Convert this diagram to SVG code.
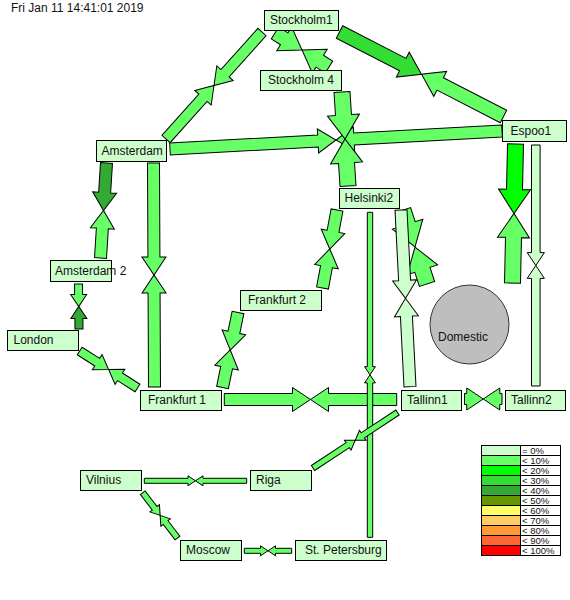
<svg xmlns="http://www.w3.org/2000/svg" xmlns:xlink="http://www.w3.org/1999/xlink" width="570" height="600" viewBox="0 0 570 600">
<style>
  #links { stroke:#000; stroke-width:1; stroke-linejoin:miter; }
  .c0 { fill:#ccffcc; } .c1 { fill:#66ff66; } .c2 { fill:#00ff00; } .c3 { fill:#33dd33; } .c4 { fill:#33aa33; }
  .node rect { fill:#ccffcc; stroke:#000; stroke-width:1; }
  text { font-family:"Liberation Sans", Arial, sans-serif; font-size:12px; fill:#111; }
  #legend rect { stroke:#000; stroke-width:1; }
  #legend text { font-size:9.5px; }
</style>
<defs>
  <polygon id="p1" points="0,-5.5 55.4,-5.5 55.4,-11 71.9,0 55.4,11 55.4,5.5 0,5.5"/>
  <polygon id="p2" points="0,-6 148.2,-6 148.2,-12 166.2,0 148.2,12 148.2,6 0,6"/>
  <polygon id="p3" points="0,-8 23.1,-8 23.1,-16 47.1,0 23.1,16 23.1,8 0,8"/>
  <polygon id="p4" points="0,-7 71.2,-7 71.2,-14 92.2,0 71.2,14 71.2,7 0,7"/>
  <polygon id="p5" points="0,-7 10.9,-7 10.9,-14 31.9,0 10.9,14 10.9,7 0,7"/>
  <polygon id="p6" points="0,-6 29.6,-6 29.6,-12 47.6,0 29.6,12 29.6,6 0,6"/>
  <polygon id="p7" points="0,-6 94,-6 94,-12 112,0 94,12 94,6 0,6"/>
  <polygon id="p8" points="0,-4 10.5,-4 10.5,-8 22.5,0 10.5,8 10.5,4 0,4"/>
  <polygon id="p9" points="0,-4.5 20.8,-4.5 20.8,-9 34.3,0 20.8,9 20.8,4.5 0,4.5"/>
  <polygon id="p10" points="0,-6 21.7,-6 21.7,-12 39.7,0 21.7,12 21.7,6 0,6"/>
  <polygon id="p11" points="0,-6 20.3,-6 20.3,-12 38.3,0 20.3,12 20.3,6 0,6"/>
  <polygon id="p12" points="0,-6 68.2,-6 68.2,-12 86.2,0 68.2,12 68.2,6 0,6"/>
  <polygon id="p13" points="0,-5.5 2.25,-5.5 2.25,-11 18.75,0 2.25,11 2.25,5.5 0,5.5"/>
  <polygon id="p14" points="0,-6 70.5,-6 70.5,-12 88.5,0 70.5,12 70.5,6 0,6"/>
  <polygon id="p15" points="0,-8 14.9,-8 14.9,-16 38.9,0 14.9,16 14.9,8 0,8"/>
  <polygon id="p16" points="0,-4.3 107.6,-4.3 107.6,-8.6 120.5,0 107.6,8.6 107.6,4.3 0,4.3"/>
  <polygon id="p17" points="0,-8 45.5,-8 45.5,-16 69.5,0 45.5,16 45.5,8 0,8"/>
  <polygon id="p18" points="0,-3 41.55,-3 41.55,-6 50.55,0 41.55,6 41.55,3 0,3"/>
  <polygon id="p19" points="0,-2.7 154.4,-2.7 154.4,-5.4 162.5,0 154.4,5.4 154.4,2.7 0,2.7"/>
  <polygon id="p20" points="0,-2.5 43.7,-2.5 43.7,-5 51.2,0 43.7,5 43.7,2.5 0,2.5"/>
  <polygon id="p21" points="0,-3 19.5,-3 19.5,-6 28.5,0 19.5,6 19.5,3 0,3"/>
  <polygon id="p22" points="0,-2.5 16.2,-2.5 16.2,-5 23.7,0 16.2,5 16.2,2.5 0,2.5"/>
</defs>

<text x="11" y="12">Fri Jan 11 14:41:01 2019</text>

<g id="links">
  <use href="#p1" class="c1" transform="translate(166,139) rotate(-48.11)"/>
  <use href="#p1" class="c1" transform="translate(262,32) rotate(131.89)"/>
  <use href="#p2" class="c1" transform="translate(170,149) rotate(-3.10)"/>
  <use href="#p2" class="c1" transform="translate(502,131) rotate(176.90)"/>
  <use href="#p4" class="c3" transform="translate(339.5,32) rotate(27.26)"/>
  <use href="#p4" class="c1" transform="translate(503.5,116.5) rotate(207.26)"/>
  <use href="#p5" class="c1" transform="translate(275,33) rotate(32.2)"/>
  <use href="#p5" class="c1" transform="translate(329,67) rotate(212.2)"/>
  <use href="#p3" class="c1" transform="translate(342,92) rotate(86.35)"/>
  <use href="#p3" class="c1" transform="translate(348,186) rotate(266.35)"/>
  <use href="#p6" class="c4" transform="translate(106.5,163) rotate(93.61)"/>
  <use href="#p6" class="c1" transform="translate(100.5,258) rotate(273.61)"/>
  <use href="#p7" class="c1" transform="translate(153.5,163) rotate(89.74)"/>
  <use href="#p7" class="c1" transform="translate(154.5,387) rotate(269.74)"/>
  <use href="#p8" class="c1" transform="translate(78.5,284) rotate(89.36)"/>
  <use href="#p8" class="c4" transform="translate(79,329) rotate(269.36)"/>
  <use href="#p9" class="c1" transform="translate(79.7,351) rotate(32.62)"/>
  <use href="#p9" class="c1" transform="translate(137.5,388) rotate(212.62)"/>
  <use href="#p10" class="c1" transform="translate(337,210) rotate(100.53)"/>
  <use href="#p10" class="c1" transform="translate(322.5,288) rotate(280.53)"/>
  <use href="#p11" class="c1" transform="translate(238,312.5) rotate(101.68)"/>
  <use href="#p11" class="c1" transform="translate(222.5,387.5) rotate(281.68)"/>
  <use href="#p17" class="c2" transform="translate(515.5,144) rotate(91.24)"/>
  <use href="#p17" class="c1" transform="translate(512.5,283) rotate(271.24)"/>
  <use href="#p16" class="c0" transform="translate(535.8,145) rotate(90)"/>
  <use href="#p16" class="c0" transform="translate(535.8,386) rotate(270)"/>
  <use href="#p15" class="c1" transform="translate(403,210) rotate(72.03)"/>
  <use href="#p15" class="c1" transform="translate(427,284) rotate(252.03)"/>
  <use href="#p14" class="c0" transform="translate(401,210) rotate(87.08)"/>
  <use href="#p14" class="c0" transform="translate(410,386.7) rotate(267.08)"/>
  <use href="#p12" class="c1" transform="translate(224.3,399.5)"/>
  <use href="#p12" class="c1" transform="translate(396.7,399.5) rotate(180)"/>
  <use href="#p13" class="c1" transform="translate(464.5,399)"/>
  <use href="#p13" class="c1" transform="translate(502,399) rotate(180)"/>
  <use href="#p19" class="c1" transform="translate(370,212.3) rotate(90)"/>
  <use href="#p19" class="c1" transform="translate(370,537.3) rotate(270)"/>
  <use href="#p18" class="c1" transform="translate(397.5,412.5) rotate(146.70)"/>
  <use href="#p18" class="c1" transform="translate(313,468) rotate(326.70)"/>
  <use href="#p20" class="c1" transform="translate(144.3,480.8)"/>
  <use href="#p20" class="c1" transform="translate(246.7,480.8) rotate(180)"/>
  <use href="#p21" class="c1" transform="translate(142.8,492.8) rotate(52.49)"/>
  <use href="#p21" class="c1" transform="translate(177.5,538) rotate(232.49)"/>
  <use href="#p22" class="c1" transform="translate(244.3,550.8)"/>
  <use href="#p22" class="c1" transform="translate(291.7,550.8) rotate(180)"/>
</g>

<g id="node-stockholm1" class="node"><rect x="264.5" y="10.5" width="74" height="20"/><text x="270" y="24">Stockholm1</text></g>
<g id="node-stockholm4" class="node"><rect x="260.5" y="70.5" width="81" height="20"/><text x="268" y="84">Stockholm 4</text></g>
<g id="node-espoo1" class="node"><rect x="502.5" y="120.5" width="64" height="21"/><text x="510.5" y="134.5">Espoo1</text></g>
<g id="node-amsterdam" class="node"><rect x="96.5" y="140.5" width="70" height="21"/><text x="101.5" y="154.5">Amsterdam</text></g>
<g id="node-helsinki2" class="node"><rect x="339.5" y="188.5" width="60" height="20"/><text x="344.5" y="202">Helsinki2</text></g>
<g id="node-amsterdam2" class="node"><rect x="50.5" y="260.5" width="61" height="21"/><text x="55" y="274.5">Amsterdam 2</text></g>
<g id="node-london" class="node"><rect x="7.5" y="330.5" width="71" height="20"/><text x="13.5" y="344">London</text></g>
<g id="node-frankfurt2" class="node"><rect x="240.5" y="290.5" width="81" height="20"/><text x="248" y="304">Frankfurt 2</text></g>
<g id="node-domestic"><circle cx="469.5" cy="324.5" r="39.5" fill="#bebebe" stroke="#333" stroke-width="1"/><text x="438" y="341">Domestic</text></g>
<g id="node-frankfurt1" class="node"><rect x="140.5" y="390.5" width="81" height="20"/><text x="148" y="404">Frankfurt 1</text></g>
<g id="node-tallinn1" class="node"><rect x="401.5" y="390.5" width="60" height="20"/><text x="407" y="404">Tallinn1</text></g>
<g id="node-tallinn2" class="node"><rect x="505.5" y="390.5" width="60" height="20"/><text x="511" y="404">Tallinn2</text></g>
<g id="node-vilnius" class="node"><rect x="80.5" y="470.5" width="61" height="20"/><text x="86" y="484">Vilnius</text></g>
<g id="node-riga" class="node"><rect x="250.5" y="470.5" width="61" height="20"/><text x="256" y="484">Riga</text></g>
<g id="node-moscow" class="node"><rect x="180.5" y="540.5" width="61" height="20"/><text x="186" y="554">Moscow</text></g>
<g id="node-stpetersburg" class="node"><rect x="295.5" y="540.5" width="91" height="20"/><text x="305" y="554">St. Petersburg</text></g>

<g id="legend">
  <rect x="481.5" y="445.5" width="39" height="10" fill="#ccffcc"/><rect x="520.5" y="445.5" width="40" height="10" fill="#fff"/><text x="522" y="454">= 0%</text>
  <rect x="481.5" y="455.5" width="39" height="10" fill="#66ff66"/><rect x="520.5" y="455.5" width="40" height="10" fill="#fff"/><text x="522" y="464">&lt; 10%</text>
  <rect x="481.5" y="465.5" width="39" height="10" fill="#00ff00"/><rect x="520.5" y="465.5" width="40" height="10" fill="#fff"/><text x="522" y="474">&lt; 20%</text>
  <rect x="481.5" y="475.5" width="39" height="10" fill="#33dd33"/><rect x="520.5" y="475.5" width="40" height="10" fill="#fff"/><text x="522" y="484">&lt; 30%</text>
  <rect x="481.5" y="485.5" width="39" height="10" fill="#33aa33"/><rect x="520.5" y="485.5" width="40" height="10" fill="#fff"/><text x="522" y="494">&lt; 40%</text>
  <rect x="481.5" y="495.5" width="39" height="10" fill="#669900"/><rect x="520.5" y="495.5" width="40" height="10" fill="#fff"/><text x="522" y="504">&lt; 50%</text>
  <rect x="481.5" y="505.5" width="39" height="10" fill="#ffff66"/><rect x="520.5" y="505.5" width="40" height="10" fill="#fff"/><text x="522" y="514">&lt; 60%</text>
  <rect x="481.5" y="515.5" width="39" height="10" fill="#ffcc66"/><rect x="520.5" y="515.5" width="40" height="10" fill="#fff"/><text x="522" y="524">&lt; 70%</text>
  <rect x="481.5" y="525.5" width="39" height="10" fill="#ff9933"/><rect x="520.5" y="525.5" width="40" height="10" fill="#fff"/><text x="522" y="534">&lt; 80%</text>
  <rect x="481.5" y="535.5" width="39" height="10" fill="#ff6633"/><rect x="520.5" y="535.5" width="40" height="10" fill="#fff"/><text x="522" y="544">&lt; 90%</text>
  <rect x="481.5" y="545.5" width="39" height="10" fill="#ff0000"/><rect x="520.5" y="545.5" width="40" height="10" fill="#fff"/><text x="522" y="554">&lt; 100%</text>
</g>
</svg>
